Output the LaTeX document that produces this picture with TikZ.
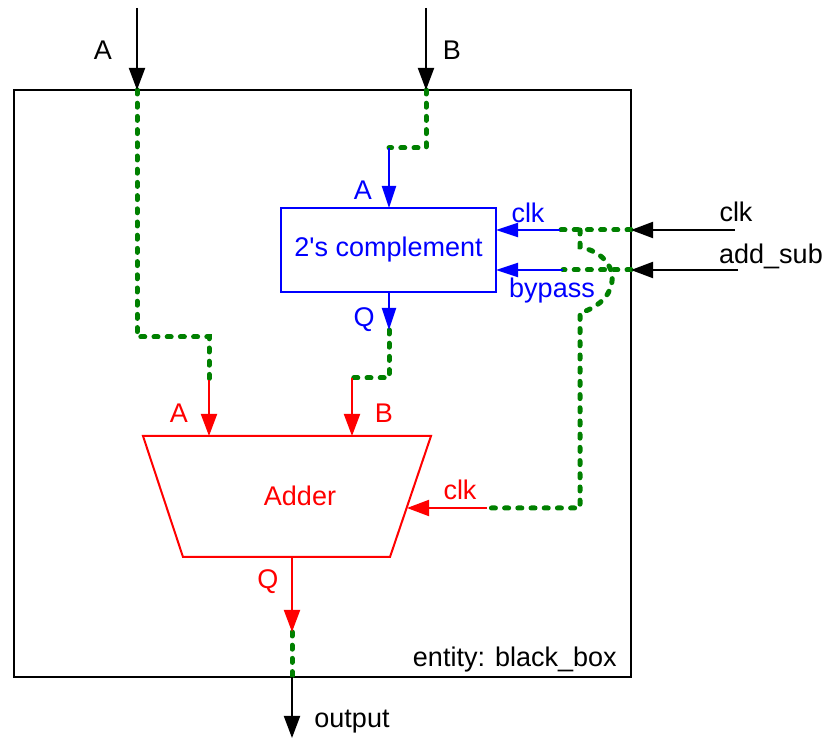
\documentclass[tikz,border=0pt]{standalone}
\usepackage{fontspec}
\setmainfont{Liberation Sans}
\usepackage{tikz}
\usetikzlibrary{positioning, arrows.meta}

\begin{document}
\begin{tikzpicture}[x=0.5pt,y=-0.5pt,>={Triangle[length=11pt,width=8pt]}]
	\tikzstyle{lbl}=[font=\fontsize{13.5}{16}\selectfont,inner sep=0pt]
	\tikzstyle{wire}=[draw=green!50!black,line width=2.5pt,line cap=round,dash pattern=on 2pt off 4.6pt]
	\tikzstyle{port}=[line width=1pt,->]
	\useasboundingbox (0,0) rectangle (827,738);
	\draw[line width=1pt] (14,90) rectangle (631,677);
	\node[lbl,anchor=east](ent) at (617,660) {entity: black\_box};

	\coordinate (inA) at (137,8);
	\coordinate (inB) at (426,8);
	\coordinate (inclk) at (735,230);
	\coordinate (inadd) at (738,270);
	\coordinate (pA) at (137,90);
	\coordinate (pB) at (426,90);
	\coordinate (pclk) at (631,230);
	\coordinate (padd) at (631,270);
	\coordinate (pout) at (292,677);
	\coordinate (out) at (292,738);

	\node[draw=blue,line width=1pt,minimum width=107.5pt,minimum height=42pt,inner sep=0pt,text=blue,font=\fontsize{13.5}{16}\selectfont](comp) at (388.5,250) {2\textquotesingle s complement};
	\coordinate (cA) at (389,208);
	\coordinate (cQ) at (389,292);
	\coordinate (cclk) at (496,230);
	\coordinate (cbyp) at (496,270);
	\coordinate (cAw) at (389,148);
	\coordinate (cQw) at (389,330);
	\coordinate (cclkw) at (560,230);
	\coordinate (cbypw) at (563,270);

	\coordinate (adTL) at (143,436);
	\coordinate (adTR) at (431,436);
	\coordinate (adBR) at (390,557);
	\coordinate (adBL) at (183,557);
	\draw[red,line width=1pt] (adTL) -- (adTR) -- (adBR) -- (adBL) -- cycle;
	\node[lbl,text=red](adder) at (300,496) {Adder};
	\coordinate (adA) at (209,436);
	\coordinate (adB) at (352,436);
	\coordinate (adclk) at (407,508);
	\coordinate (adQ) at (292,557);
	\coordinate (adAw) at (209,380);
	\coordinate (adBw) at (352,378);
	\coordinate (adclkw) at (487,508);
	\coordinate (adQw) at (292,632);

	\node[lbl](lA) at (103,50) {A};
	\node[lbl](lB) at (452,50) {B};
	\node[lbl](lclk) at (736,212) {clk};
	\node[lbl](ladd) at (771,256) {add\_sub};
	\node[lbl](lout) at (352,722) {output};
	\node[lbl,text=blue](lcA) at (363,190) {A};
	\node[lbl,text=blue](lcclk) at (528,213) {clk};
	\node[lbl,text=blue](lcbyp) at (552,291) {bypass};
	\node[lbl,text=blue](lcQ) at (364,320) {Q};
	\node[lbl,text=red](ladA) at (179,413) {A};
	\node[lbl,text=red](ladB) at (384,413) {B};
	\node[lbl,text=red](ladclk) at (460,490) {clk};
	\node[lbl,text=red](ladQ) at (268,582) {Q};

	\draw[wire](pA) -- (137,337) -- (209,337) -- (adAw);
	\draw[wire](pB) -- (426,148) -- (cAw);
	\draw[wire](cQw) -- (389,378) -- (adBw);
	\draw[wire](pclk) -- (cclkw);
	\draw[wire](padd) -- (cbypw);
	\draw[wire](580,230) -- (580,247) .. controls (623,256) and (623,300) .. (580,313) -- (580,508) -- (adclkw);
	\draw[wire](adQw) -- (pout);

	\draw[black,port](inA) -- (pA);
	\draw[black,port](inB) -- (pB);
	\draw[black,port](inclk) -- (pclk);
	\draw[black,port](inadd) -- (padd);
	\draw[black,port](pout) -- (out);
	\draw[blue,port,>={Triangle[length=11pt,width=7pt]}](cAw) -- (cA);
	\draw[blue,port,>={Triangle[length=11pt,width=7pt]}](cQ) -- (cQw);
	\draw[blue,port,>={Triangle[length=11pt,width=7pt]}](cclkw) -- (cclk);
	\draw[blue,port,>={Triangle[length=11pt,width=7pt]}](cbypw) -- (cbyp);
	\draw[red,port](adAw) -- (adA);
	\draw[red,port](adBw) -- (adB);
	\draw[red,port](adclkw) -- (adclk);
	\draw[red,port](adQ) -- (adQw);
\end{tikzpicture}
\end{document}
